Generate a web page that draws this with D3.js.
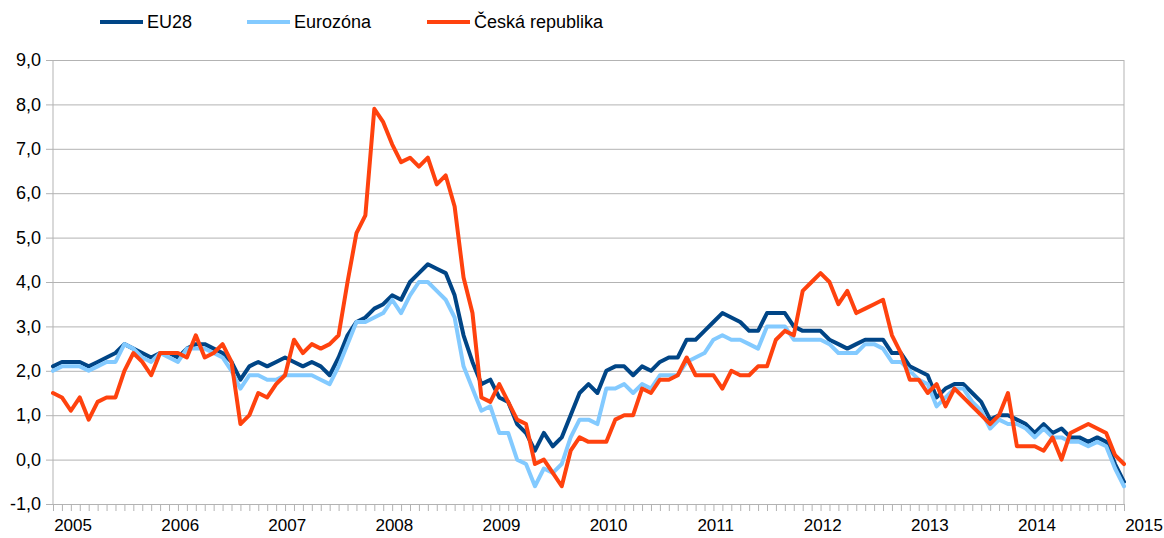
<!DOCTYPE html>
<html>
<head>
<meta charset="utf-8">
<script src="https://cdn.jsdelivr.net/npm/d3@7"></script>
<style>
  html, body { margin: 0; padding: 0; background: #fff; }
  svg { display: block; }
  text { font-family: "Liberation Sans", Arial, sans-serif; fill: #000; }
</style>
</head>
<body>
<svg id="chart" width="1164" height="538"></svg>
<script>
// ---- data (monthly HICP annual rate, Jan 2005 – Jan 2015) ----
const years = [2005, 2006, 2007, 2008, 2009, 2010, 2011, 2012, 2013, 2014, 2015];
const yearLabels = ["2005","2006","2007","2008","2009","2010","2011","2012","2013","2014","2015"];
const monthNames = ["01","02","03","04","05","06","07","08","09","10","11","12"];
const categories = [];
years.forEach(yr => monthNames.forEach(m => { if (yr < 2015 || m === "01") categories.push(yr + "-" + m); }));

const seriesNames = ["EU28", "Eurozóna", "Česká republika"];

const eu28 = [
  2.1,2.2,2.2,2.2,2.1,2.2,2.3,2.4,2.6,2.5,2.4,2.3,
  2.4,2.4,2.3,2.5,2.6,2.6,2.5,2.4,2.2,1.8,2.1,2.2,
  2.1,2.2,2.3,2.2,2.1,2.2,2.1,1.9,2.3,2.8,3.1,3.2,
  3.4,3.5,3.7,3.6,4.0,4.2,4.4,4.3,4.2,3.7,2.8,2.2,
  1.7,1.8,1.4,1.3,0.8,0.6,0.2,0.6,0.3,0.5,1.0,1.5,
  1.7,1.5,2.0,2.1,2.1,1.9,2.1,2.0,2.2,2.3,2.3,2.7,
  2.7,2.9,3.1,3.3,3.2,3.1,2.9,2.9,3.3,3.3,3.3,3.0,
  2.9,2.9,2.9,2.7,2.6,2.5,2.6,2.7,2.7,2.7,2.4,2.4,
  2.1,2.0,1.9,1.4,1.6,1.7,1.7,1.5,1.3,0.9,1.0,1.0,
  0.9,0.8,0.6,0.8,0.6,0.7,0.5,0.5,0.4,0.5,0.4,-0.1,
  -0.5
];
const eurozona = [
  2.0,2.1,2.1,2.1,2.0,2.1,2.2,2.2,2.6,2.5,2.3,2.2,
  2.4,2.3,2.2,2.5,2.5,2.5,2.4,2.3,2.0,1.6,1.9,1.9,
  1.8,1.8,1.9,1.9,1.9,1.9,1.8,1.7,2.1,2.6,3.1,3.1,
  3.2,3.3,3.6,3.3,3.7,4.0,4.0,3.8,3.6,3.2,2.1,1.6,
  1.1,1.2,0.6,0.6,0.0,-0.1,-0.6,-0.2,-0.3,-0.1,0.5,0.9,
  0.9,0.8,1.6,1.6,1.7,1.5,1.7,1.6,1.9,1.9,1.9,2.2,
  2.3,2.4,2.7,2.8,2.7,2.7,2.6,2.5,3.0,3.0,3.0,2.7,
  2.7,2.7,2.7,2.6,2.4,2.4,2.4,2.6,2.6,2.5,2.2,2.2,
  2.0,1.8,1.7,1.2,1.4,1.6,1.6,1.3,1.1,0.7,0.9,0.8,
  0.8,0.7,0.5,0.7,0.5,0.5,0.4,0.4,0.3,0.4,0.3,-0.2,
  -0.6
];
const ceskaRepublika = [
  1.5,1.4,1.1,1.4,0.9,1.3,1.4,1.4,2.0,2.4,2.2,1.9,
  2.4,2.4,2.4,2.3,2.8,2.3,2.4,2.6,2.2,0.8,1.0,1.5,
  1.4,1.7,1.9,2.7,2.4,2.6,2.5,2.6,2.8,4.0,5.1,5.5,
  7.9,7.6,7.1,6.7,6.8,6.6,6.8,6.2,6.4,5.7,4.1,3.3,
  1.4,1.3,1.7,1.3,0.9,0.8,-0.1,0.0,-0.3,-0.6,0.2,0.5,
  0.4,0.4,0.4,0.9,1.0,1.0,1.6,1.5,1.8,1.8,1.9,2.3,
  1.9,1.9,1.9,1.6,2.0,1.9,1.9,2.1,2.1,2.7,2.9,2.8,
  3.8,4.0,4.2,4.0,3.5,3.8,3.3,3.4,3.5,3.6,2.8,2.4,
  1.8,1.8,1.5,1.7,1.2,1.6,1.4,1.2,1.0,0.8,1.0,1.5,
  0.3,0.3,0.3,0.2,0.5,0.0,0.6,0.7,0.8,0.7,0.6,0.1,
  -0.1
];
const yTicks = [-1, 0, 1, 2, 3, 4, 5, 6, 7, 8, 9];
const colors = ["#004586", "#83caff", "#ff420e"];

// ---- layout ----
const mLeft = 53, mRight = 1124, mTop = 60, mBottom = 504;
const svg = d3.select("#chart");

const x = d3.scaleLinear().domain([0, categories.length - 1]).range([mLeft, mRight]);
const y = d3.scaleLinear().domain([-1, 9]).range([mBottom, mTop]);

const loc = d3.formatLocale({decimal: ",", thousands: " ", grouping: [3], currency: ["", " Kč"], minus: "-"});
const fmt = loc.format(".1f");

// horizontal grid + y-axis
const yAxis = d3.axisLeft(y).tickValues(yTicks).tickFormat(fmt)
  .tickSizeInner(-(mRight - mLeft)).tickSizeOuter(0).tickPadding(12);
const gy = svg.append("g").attr("transform", `translate(${mLeft},0)`).call(yAxis);
gy.select(".domain").remove();
gy.selectAll(".tick line").attr("stroke", "#b3b3b3").attr("stroke-width", 1);
gy.selectAll(".tick text").attr("font-size", 18).attr("fill", "#000").attr("x", -12);
gy.selectAll(".tick").append("line").attr("x1", -7).attr("x2", 0).attr("stroke", "#b3b3b3");

// left and right verticals
svg.append("line").attr("x1", mLeft).attr("x2", mLeft).attr("y1", mTop).attr("y2", mBottom + 1)
  .attr("stroke", "#b3b3b3");
svg.append("line").attr("x1", mRight).attr("x2", mRight).attr("y1", mTop).attr("y2", mBottom)
  .attr("stroke", "#b3b3b3");

// x-axis: monthly ticks
const xAxis = d3.axisBottom(x).tickValues(d3.range(categories.length)).tickFormat("")
  .tickSizeInner(7).tickSizeOuter(0);
const gx = svg.append("g").attr("transform", `translate(0,${mBottom})`).call(xAxis);
gx.select(".domain").attr("stroke", "#b3b3b3");
gx.selectAll(".tick line").attr("stroke", "#b3b3b3");

// year labels
svg.append("g").selectAll("text").data(yearLabels).join("text")
  .attr("x", d => x(categories.indexOf(d + "-01")) + 2.25 * (x(1) - x(0)))
  .attr("y", 531)
  .attr("text-anchor", "middle")
  .attr("font-size", 17)
  .text(d => d);

// lines
const allSeries = [eu28, eurozona, ceskaRepublika];
const line = d3.line().x((d, i) => x(i)).y(d => y(d));
svg.append("g").selectAll("path").data(allSeries).join("path")
  .attr("d", d => line(d))
  .attr("fill", "none")
  .attr("stroke", (d, i) => colors[i])
  .attr("stroke-width", 4)
  .attr("stroke-linejoin", "round")
  .attr("stroke-linecap", "round");

// legend
const legendX = [100, 247, 427];
const lg = svg.append("g").selectAll("g").data(seriesNames).join("g")
  .attr("transform", (d, i) => `translate(${legendX[i]},22)`);
lg.append("line").attr("x1", 0).attr("x2", 43).attr("y1", 0).attr("y2", 0)
  .attr("stroke", (d, i) => colors[i]).attr("stroke-width", 4);
lg.append("text").attr("x", 47).attr("y", 0).attr("dy", "0.35em")
  .attr("font-size", 18).text(d => d);
</script>
</body>
</html>
